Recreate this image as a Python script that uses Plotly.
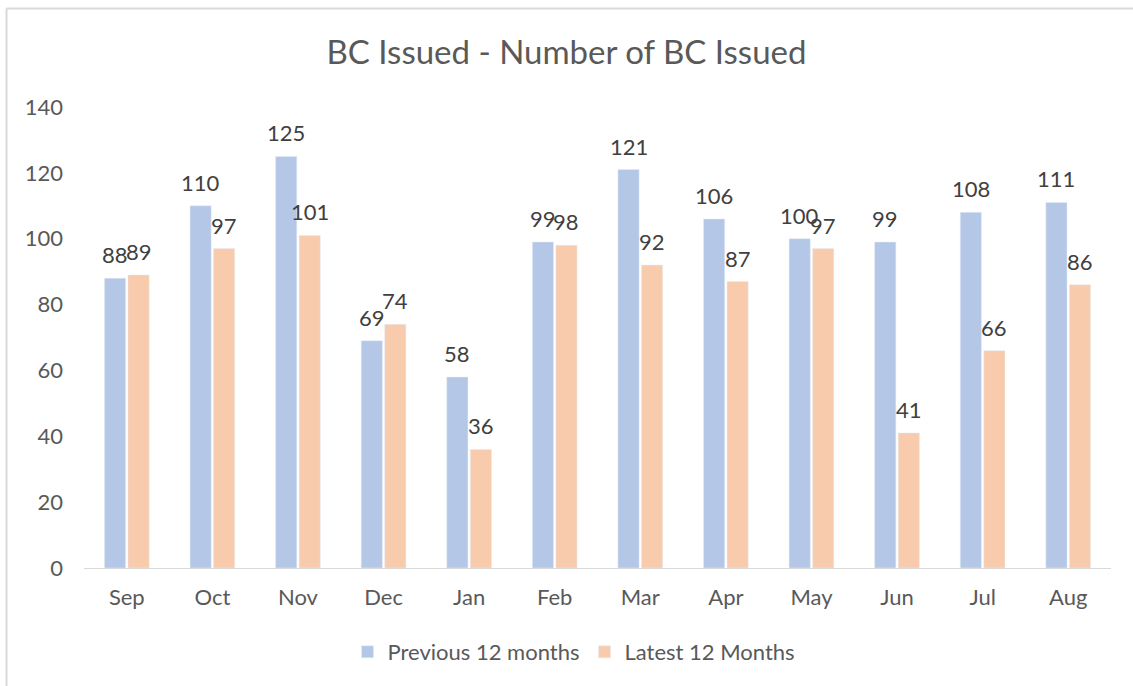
import plotly.graph_objects as go

months = ["Sep", "Oct", "Nov", "Dec", "Jan", "Feb", "Mar", "Apr", "May", "Jun", "Jul", "Aug"]
previous_12 = [88, 110, 125, 69, 58, 99, 121, 106, 100, 99, 108, 111]
latest_12 = [89, 97, 101, 74, 36, 98, 92, 87, 97, 41, 66, 86]

blue = "#b4c7e7"
orange = "#f8cbad"
text_col = "#595959"
label_col = "#404040"
font_family = "Lato, Carlito, 'Open Sans', sans-serif"

L, R, T, B = 84, 22, 107, 118
W, H = 1133, 686
pw, ph = W - L - R, H - T - B
bargap = 0.45

def px(x):
    return (x - L) / pw

def py(y):
    return (H - B - y) / ph

fig = go.Figure()
fig.add_trace(go.Bar(name="Previous 12 months", x=months, y=previous_12, marker=dict(color=blue)))
fig.add_trace(go.Bar(name="Latest 12 Months", x=months, y=latest_12, marker=dict(color=orange)))

slot = pw / len(months) * (1 - bargap) / 2
annotations = []
for series, sign in ((previous_12, -1), (latest_12, 1)):
    for m, v in zip(months, series):
        annotations.append(dict(
            x=m, y=v, xref="x", yref="y", text=str(v), showarrow=False,
            xanchor="center", yanchor="bottom", xshift=sign * slot / 2, yshift=8,
            font=dict(size=22, color=label_col, family=font_family),
        ))

fig.update_layout(
    width=W, height=H,
    margin=dict(l=L, r=R, t=T, b=B),
    paper_bgcolor="white", plot_bgcolor="white",
    font=dict(family=font_family, color=text_col, size=22),
    title=dict(text="BC Issued - Number of BC Issued", x=0.5, xanchor="center",
               y=1 - 52 / H, yanchor="middle",
               font=dict(size=33, color=text_col, family=font_family)),
    barmode="group", bargap=bargap, bargroupgap=0.1,
    showlegend=True,
    legend=dict(orientation="h", x=px(574), xanchor="center", y=py(652), yanchor="middle",
                font=dict(size=22, color=text_col), itemwidth=30, traceorder="normal"),
    xaxis=dict(showgrid=False, showline=True, linecolor="#d9d9d9", linewidth=1,
               ticks="", tickfont=dict(size=22, color=text_col), ticklabelstandoff=10),
    yaxis=dict(range=[0, 140], dtick=20, showgrid=False, zeroline=False, showline=False,
               tickfont=dict(size=22, color=text_col), ticklabelstandoff=20),
    annotations=annotations,
    shapes=[
        dict(type="line", xref="paper", yref="paper", x0=px(6.5), x1=px(1133), y0=py(8.5), y1=py(8.5),
             line=dict(color="#d9d9d9", width=2)),
        dict(type="line", xref="paper", yref="paper", x0=px(6.5), x1=px(6.5), y0=py(8.5), y1=py(686),
             line=dict(color="#d9d9d9", width=2)),
    ],
)

fig.write_html("out.html", config={"displayModeBar": False},
               post_script="document.body.style.margin='0';document.body.style.overflow='hidden';")
